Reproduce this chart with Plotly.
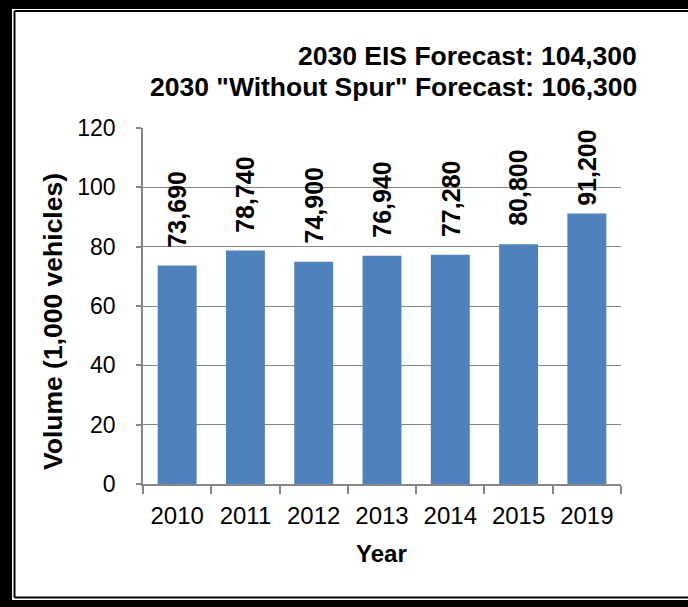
import plotly.graph_objects as go

# Annual traffic volumes (thousands of vehicles)
years = ["2010", "2011", "2012", "2013", "2014", "2015", "2019"]
volumes = [73.69, 78.74, 74.90, 76.94, 77.28, 80.80, 91.20]
value_labels = ["73,690", "78,740", "74,900", "76,940", "77,280", "80,800", "91,200"]
y_ticks = [0, 20, 40, 60, 80, 100, 120]
forecast_lines = [
    "2030 EIS Forecast: 104,300",
    "2030 \"Without Spur\" Forecast: 106,300",
]

W, H = 688, 607
ML, MR, MT, MB = 143, 67, 128, 123
PW, PH = W - ML - MR, H - MT - MB
Y_MAX = 120

FONT = "Liberation Sans, Arial, sans-serif"
GRID = "#868686"
BAR = "#4F81BD"


def px_x(px):
    return (px - ML) / PW


def px_y(py):
    return (H - MB - py) / PH


fig = go.Figure(
    go.Bar(
        x=years,
        y=volumes,
        marker=dict(color=BAR, line=dict(width=0)),
        hoverinfo="skip",
    )
)

# Rotated value labels above each bar, kept inside the plot area
LABEL_LEN = 80
GAP = 16
px_per_unit = PH / Y_MAX
annotations = []
for idx, (v, lab) in enumerate(zip(volumes, value_labels)):
    room = (Y_MAX - v) * px_per_unit - LABEL_LEN
    annotations.append(
        dict(
            x=idx, y=v, xref="x", yref="y",
            text="<b>%s</b>" % lab, textangle=-90, showarrow=False,
            xanchor="center", yanchor="bottom",
            yshift=min(GAP, room),
            font=dict(family=FONT, size=25, color="black"),
        )
    )

# Forecast notes, right-aligned above the plot
for i, line in enumerate(forecast_lines):
    annotations.append(
        dict(
            x=px_x(639), y=px_y(56 + 31 * i), xref="paper", yref="paper",
            text="<b>%s</b>" % line, showarrow=False,
            xanchor="right", yanchor="middle",
            font=dict(family=FONT, size=26.5, color="black"),
        )
    )

# Axis titles
annotations.append(
    dict(
        x=px_x(53), y=px_y(322), xref="paper", yref="paper",
        text="<b>Volume (1,000 vehicles)</b>", textangle=-90, showarrow=False,
        xanchor="center", yanchor="middle",
        font=dict(family=FONT, size=26.5, color="black"),
    )
)
annotations.append(
    dict(
        x=px_x(381), y=px_y(553), xref="paper", yref="paper",
        text="<b>Year</b>", showarrow=False,
        xanchor="center", yanchor="middle",
        font=dict(family=FONT, size=24, color="black"),
    )
)

# Double frame: thick outer band with a thin inner rule (left, top, bottom)
shapes = [
    dict(type="rect", xref="paper", yref="paper", layer="above",
         x0=px_x(0), x1=px_x(12), y0=px_y(0), y1=px_y(H),
         fillcolor="black", line=dict(width=0)),
    dict(type="rect", xref="paper", yref="paper", layer="above",
         x0=px_x(0), x1=px_x(W), y0=px_y(0), y1=px_y(9),
         fillcolor="black", line=dict(width=0)),
    dict(type="rect", xref="paper", yref="paper", layer="above",
         x0=px_x(0), x1=px_x(W), y0=px_y(600), y1=px_y(H),
         fillcolor="black", line=dict(width=0)),
    dict(type="line", xref="paper", yref="paper", layer="above",
         x0=px_x(14.5), x1=px_x(14.5), y0=px_y(11), y1=px_y(597.5),
         line=dict(color="black", width=2)),
    dict(type="line", xref="paper", yref="paper", layer="above",
         x0=px_x(14.5), x1=px_x(W), y0=px_y(11), y1=px_y(11),
         line=dict(color="black", width=2)),
    dict(type="line", xref="paper", yref="paper", layer="above",
         x0=px_x(14.5), x1=px_x(W), y0=px_y(597.5), y1=px_y(597.5),
         line=dict(color="black", width=2)),
    # open right side of the frame
    dict(type="rect", xref="paper", yref="paper", layer="above",
         x0=px_x(678), x1=px_x(W + 2), y0=px_y(13), y1=px_y(595),
         fillcolor="white", line=dict(width=0)),
]

fig.update_layout(
    width=W, height=H,
    margin=dict(l=ML, r=MR, t=MT, b=MB, pad=0),
    paper_bgcolor="white", plot_bgcolor="white",
    showlegend=False,
    bargap=0.43,
    font=dict(family=FONT, color="black"),
    annotations=annotations,
    shapes=shapes,
    xaxis=dict(
        type="category",
        range=[-0.5, len(years) - 0.5],
        showgrid=False,
        showline=True, linecolor=GRID, linewidth=1.5,
        ticks="outside", tickson="boundaries", ticklen=8,
        tickcolor=GRID, tickwidth=1.5,
        tickfont=dict(family=FONT, size=24, color="black"),
        tickangle=0,
        ticklabelstandoff=9,
    ),
    yaxis=dict(
        range=[0, Y_MAX],
        tickvals=y_ticks,
        showgrid=True, gridcolor=GRID, gridwidth=1,
        showline=True, linecolor=GRID, linewidth=1.5,
        ticks="outside", ticklen=5, tickcolor=GRID, tickwidth=1.5,
        tickfont=dict(family=FONT, size=23, color="black"),
        ticklabelstandoff=16,
        zeroline=False,
    ),
)

fig.write_html("out.html")
